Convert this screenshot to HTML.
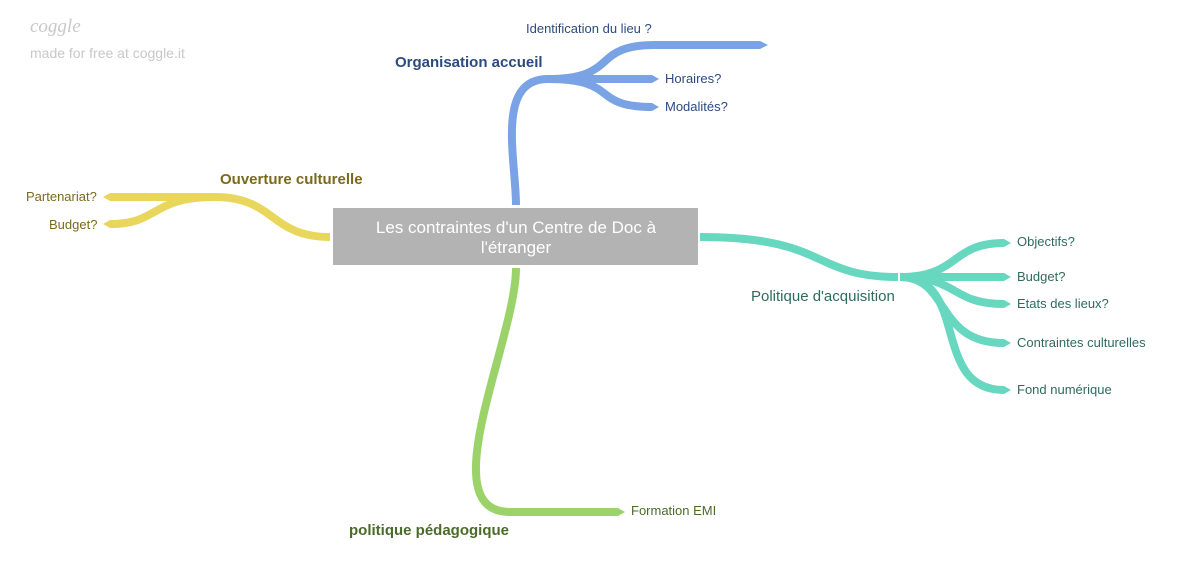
<!DOCTYPE html>
<html><head><meta charset="utf-8"><style>
body{margin:0;background:#fff;width:1180px;height:563px;overflow:hidden;font-family:"Liberation Sans",sans-serif}
svg{position:absolute;left:0;top:0}
</style></head><body>
<svg width="1180" height="563" viewBox="0 0 1180 563" font-family="Liberation Sans, sans-serif">
<g fill="none" stroke-linecap="butt">
<g stroke="#7aa3e5" stroke-width="8">
<path d="M516,205 C516,160 495,79 548,79"/>
<path d="M548,79 C620,79 590,45 655,45 L760,45"/>
<path d="M548,79 L652,79"/>
<path d="M548,79 C620,79 590,107 652,107"/>
</g>
<g stroke="#e8d75c" stroke-width="8">
<path d="M330,237 C270,237 275,197 215,197"/>
<path d="M215,197 L110,197"/>
<path d="M215,197 C150,197 160,224 110,224"/>
</g>
<g stroke="#67d7c0" stroke-width="8">
<path d="M700,237 C830,237 810,277 898,277"/>
<path d="M900,277 C960,277 950,243 1004,243"/>
<path d="M900,277 L1004,277"/>
<path d="M900,277 C960,277 950,304 1004,304"/>
<path d="M900,277 C950,277 935,343 1004,343"/>
<path d="M900,277 C970,277 930,390 1004,390"/>
</g>
<g stroke="#9bd36a" stroke-width="8">
<path d="M516,268 C516,340 430,512 510,512"/>
<path d="M510,512 L618,512"/>
</g>
</g>
<g>
<polygon points="760,41 768,45 760,49" fill="#7aa3e5"/>
<polygon points="652,75 659,79 652,83" fill="#7aa3e5"/>
<polygon points="652,103 659,107 652,111" fill="#7aa3e5"/>
<polygon points="110,193 103,197 110,201" fill="#e8d75c"/>
<polygon points="110,220 103,224 110,228" fill="#e8d75c"/>
<polygon points="1004,239 1011,243 1004,247" fill="#67d7c0"/>
<polygon points="1004,273 1011,277 1004,281" fill="#67d7c0"/>
<polygon points="1004,300 1011,304 1004,308" fill="#67d7c0"/>
<polygon points="1004,339 1011,343 1004,347" fill="#67d7c0"/>
<polygon points="1004,386 1011,390 1004,394" fill="#67d7c0"/>
<polygon points="618,508 625,512 618,516" fill="#9bd36a"/>
</g>
<rect x="333" y="208" width="365" height="57" fill="#b3b3b3"/>
<text x="516" y="233" fill="#fff" font-size="17" text-anchor="middle">Les contraintes d'un Centre de Doc à</text>
<text x="516" y="253" fill="#fff" font-size="17" text-anchor="middle">l'étranger</text>
<text x="30" y="32" fill="#c8c8c8" font-size="19" font-style="italic" font-family="Liberation Serif, serif">coggle</text>
<text x="30" y="58" fill="#c8c8c8" font-size="14">made for free at coggle.it</text>
<g fill="#2c4a80" font-size="13">
<text x="395" y="67" font-size="15" font-weight="bold">Organisation accueil</text>
<text x="526" y="33">Identification du lieu ?</text>
<text x="665" y="83">Horaires?</text>
<text x="665" y="111">Modalités?</text>
</g>
<g fill="#7b6a1d" font-size="13">
<text x="220" y="184" font-size="15" font-weight="bold">Ouverture culturelle</text>
<text x="26" y="201">Partenariat?</text>
<text x="49" y="229">Budget?</text>
</g>
<g fill="#2e6b5e" font-size="13">
<text x="751" y="301" font-size="15">Politique d'acquisition</text>
<text x="1017" y="246">Objectifs?</text>
<text x="1017" y="281">Budget?</text>
<text x="1017" y="308">Etats des lieux?</text>
<text x="1017" y="347">Contraintes culturelles</text>
<text x="1017" y="394">Fond numérique</text>
</g>
<g fill="#4a6b2a" font-size="13">
<text x="349" y="535" font-size="15" font-weight="bold">politique pédagogique</text>
<text x="631" y="515">Formation EMI</text>
</g>
</svg>
</body></html>
